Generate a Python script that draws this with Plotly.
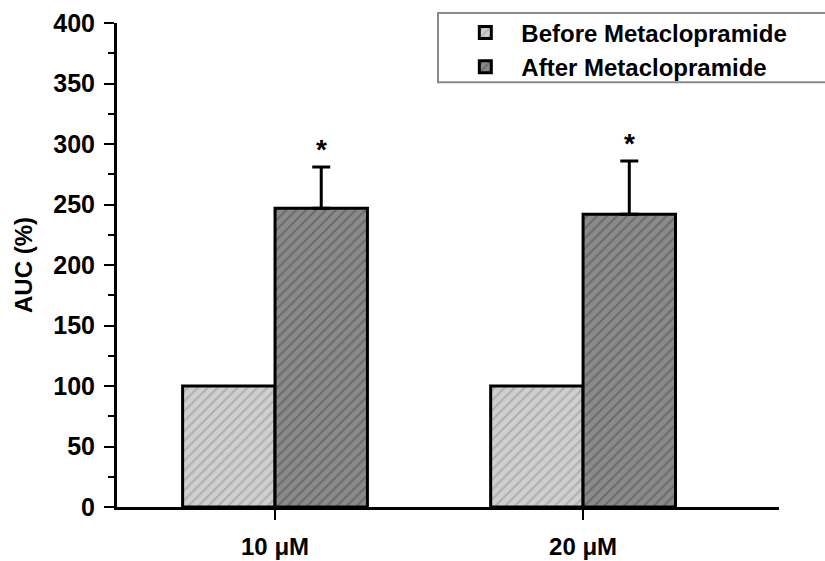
import plotly.graph_objects as go

categories = ["10 μM", "20 μM"]
before_vals = [100, 100]
after_vals = [247, 242]
after_err = [34, 44]
series_names = ["Before Metaclopramide", "After Metaclopramide"]
sig_marks = ["*", "*"]

xpos = list(range(len(categories)))
bargap = 0.4
bar_w = (1 - bargap) / 2

FONT = "Liberation Sans, Arial, sans-serif"

fig = go.Figure()
fig.add_trace(go.Bar(
    x=xpos, y=before_vals, name=series_names[0],
    marker=dict(color="#cfcfcf", line=dict(color="black", width=3),
                pattern=dict(shape="/", fgcolor="#8f8f8f", size=7, solidity=0.3, fillmode="overlay")),
))
fig.add_trace(go.Bar(
    x=xpos, y=after_vals, name=series_names[1],
    marker=dict(color="#8a8a8a", line=dict(color="black", width=3),
                pattern=dict(shape="/", fgcolor="#4d4d4d", size=7, solidity=0.3, fillmode="overlay")),
    error_y=dict(type="data", symmetric=False, array=after_err, arrayminus=[0] * len(after_err),
                 color="black", thickness=3, width=9),
))

for i, (v, e, m) in enumerate(zip(after_vals, after_err, sig_marks)):
    fig.add_annotation(x=xpos[i] + bar_w / 2, y=v + e, text=m, showarrow=False,
                       xref="x", yref="y", yshift=17,
                       font=dict(size=28, color="black", family=FONT, weight="bold"))

fig.update_layout(
    width=825, height=561,
    margin=dict(l=117, r=46, t=23, b=54, autoexpand=False),
    paper_bgcolor="white", plot_bgcolor="white",
    barmode="group", bargap=bargap, bargroupgap=0,
    font=dict(family=FONT, color="black", weight="bold"),
    legend=dict(x=0.502, y=1.026, xanchor="left", yanchor="top",
                bgcolor="rgba(255,255,255,0)", borderwidth=0,
                font=dict(size=24, family=FONT, color="black", weight="bold"),
                itemwidth=62, tracegroupgap=0),
    showlegend=True,
)
fig.update_xaxes(
    range=[-0.513, 1.636], tickvals=xpos, ticktext=categories, automargin=False,
    showline=True, linecolor="black", linewidth=3, ticks="outside", ticklen=10, tickwidth=2,
    tickcolor="black", tickfont=dict(size=24, family=FONT, weight="bold"), showgrid=False, zeroline=False,
    ticklabelstandoff=6,
)
fig.update_yaxes(
    range=[0, 400], tickvals=list(range(0, 401, 50)), automargin=False,
    showline=True, linecolor="black", linewidth=3, ticks="outside", ticklen=10, tickwidth=2,
    tickcolor="black", tickfont=dict(size=25, family=FONT, weight="bold"), showgrid=False, zeroline=False,
    minor=dict(ticks="outside", ticklen=6, tickwidth=2, tickcolor="black", dtick=25, tick0=0),
    title=dict(text="AUC (%)", font=dict(size=24, family=FONT, weight="bold"), standoff=14),
    ticklabelstandoff=4,
)
fig.add_shape(type="rect", xref="paper", yref="paper",
              x0=(438 - 117) / 662, x1=(835 - 117) / 662,
              y0=1 + (22.7 - 82) / 484.3, y1=1 + (22.7 - 12.7) / 484.3,
              line=dict(color="#8a8a8a", width=2), fillcolor="rgba(0,0,0,0)", layer="above")

fig.write_html("out.html")
